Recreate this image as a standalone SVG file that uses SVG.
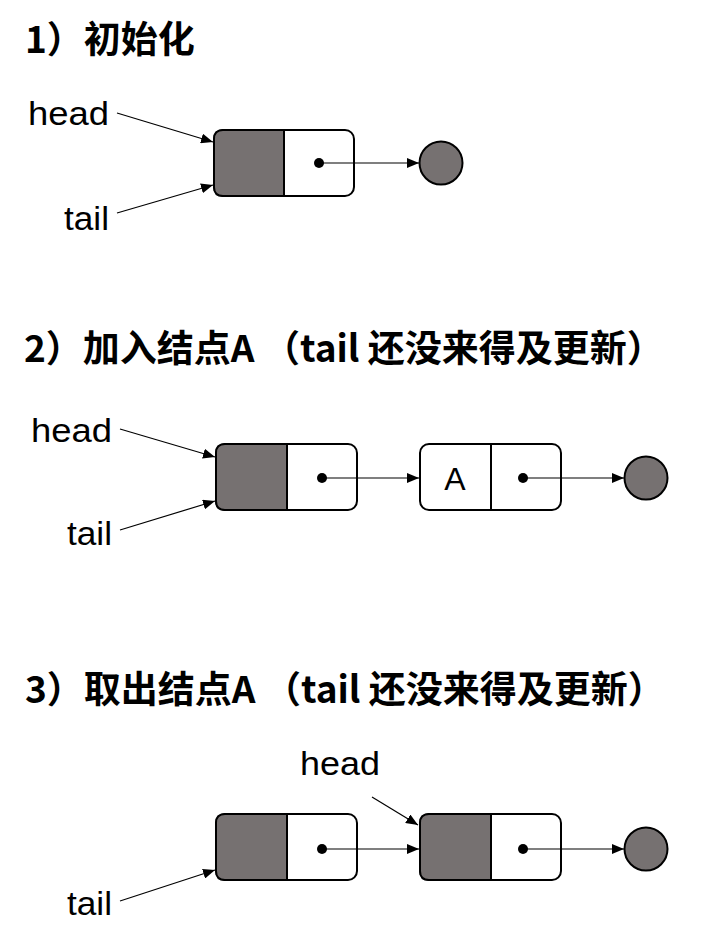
<svg xmlns="http://www.w3.org/2000/svg" width="706" height="947" viewBox="0 0 706 947">
<defs>
<style>
.title{font-family:"Noto Sans CJK SC","Noto Sans",sans-serif;font-size:37px;font-weight:bold;fill:#000}
.lbl{font-family:"Liberation Sans",Arial,sans-serif;font-size:34px;fill:#000}
.box{fill:#fff;stroke:#000;stroke-width:2}
.gray{fill:#767171;stroke:#000;stroke-width:2}
.div{stroke:#000;stroke-width:2}
.dot{fill:#000}
.conn{stroke:#000;stroke-width:1.2;fill:none;marker-end:url(#ah)}
.nil{fill:#767171;stroke:#000;stroke-width:2}
</style>
<marker id="ah" viewBox="0 0 12 10" refX="12" refY="5" markerWidth="12" markerHeight="10" markerUnits="userSpaceOnUse" orient="auto">
<path d="M0,0 L12,5 L0,10 Z" fill="#000"/>
</marker>
</defs>

<g id="titles">
<text class="title" x="25" y="53">1）初始化</text>
<text class="title" x="24" y="362">2）加入结点A （tail 还没来得及更新）</text>
<text class="title" x="25" y="703">3）取出结点A （tail 还没来得及更新）</text>
</g>

<!-- Section 1 -->
<g id="s1-head-label"><text class="lbl" x="28" y="125" textLength="81" lengthAdjust="spacingAndGlyphs">head</text></g>
<g id="s1-tail-label"><text class="lbl" x="64" y="230" textLength="45" lengthAdjust="spacingAndGlyphs">tail</text></g>
<g id="s1-node">
<rect class="box" x="214" y="130" width="140" height="66" rx="9"/>
<path class="gray" d="M284,130 L223,130 Q214,130 214,139 L214,187 Q214,196 223,196 L284,196 Z"/>
<circle class="dot" cx="319" cy="163" r="5"/>
</g>
<g id="s1-nil"><circle class="nil" cx="441" cy="163" r="21.5"/></g>

<!-- Section 2 -->
<g id="s2-head-label"><text class="lbl" x="31" y="442" textLength="81" lengthAdjust="spacingAndGlyphs">head</text></g>
<g id="s2-tail-label"><text class="lbl" x="67" y="545" textLength="45" lengthAdjust="spacingAndGlyphs">tail</text></g>
<g id="s2-node1">
<rect class="box" x="216" y="444" width="141" height="66" rx="9"/>
<path class="gray" d="M287,444 L225,444 Q216,444 216,453 L216,501 Q216,510 225,510 L287,510 Z"/>
<circle class="dot" cx="322" cy="478" r="5"/>
</g>
<g id="s2-nodeA">
<rect class="box" x="420" y="444" width="141" height="66" rx="9"/>
<line class="div" x1="491" y1="444" x2="491" y2="510"/>
<text x="455" y="490" text-anchor="middle" style="font-family:'Liberation Sans',Arial,sans-serif;font-size:32px;fill:#000">A</text>
<circle class="dot" cx="523" cy="478" r="5"/>
</g>
<g id="s2-nil"><circle class="nil" cx="646" cy="478" r="21.5"/></g>

<!-- Section 3 -->
<g id="s3-head-label"><text class="lbl" x="300" y="775" textLength="80" lengthAdjust="spacingAndGlyphs">head</text></g>
<g id="s3-tail-label"><text class="lbl" x="67" y="915" textLength="45" lengthAdjust="spacingAndGlyphs">tail</text></g>
<g id="s3-node1">
<rect class="box" x="216" y="814" width="141" height="66" rx="9"/>
<path class="gray" d="M287,814 L225,814 Q216,814 216,823 L216,871 Q216,880 225,880 L287,880 Z"/>
<circle class="dot" cx="322" cy="849" r="5"/>
</g>
<g id="s3-node2">
<rect class="box" x="420" y="814" width="141" height="66" rx="9"/>
<path class="gray" d="M491,814 L429,814 Q420,814 420,823 L420,871 Q420,880 429,880 L491,880 Z"/>
<circle class="dot" cx="523" cy="849" r="5"/>
</g>
<g id="s3-nil"><circle class="nil" cx="646" cy="849" r="21.5"/></g>

<g id="connectors">
<line class="conn" x1="117" y1="113" x2="213" y2="142"/>
<line class="conn" x1="117" y1="213" x2="213" y2="185"/>
<line class="conn" x1="319" y1="163" x2="419" y2="163"/>

<line class="conn" x1="120" y1="429" x2="215" y2="457"/>
<line class="conn" x1="120" y1="530" x2="215" y2="501"/>
<line class="conn" x1="322" y1="478" x2="419" y2="478"/>
<line class="conn" x1="523" y1="478" x2="624" y2="478"/>

<line class="conn" x1="372" y1="797" x2="418" y2="825"/>
<line class="conn" x1="120" y1="901" x2="215" y2="870"/>
<line class="conn" x1="322" y1="849" x2="419" y2="849"/>
<line class="conn" x1="523" y1="849" x2="624" y2="849"/>
</g>
</svg>
